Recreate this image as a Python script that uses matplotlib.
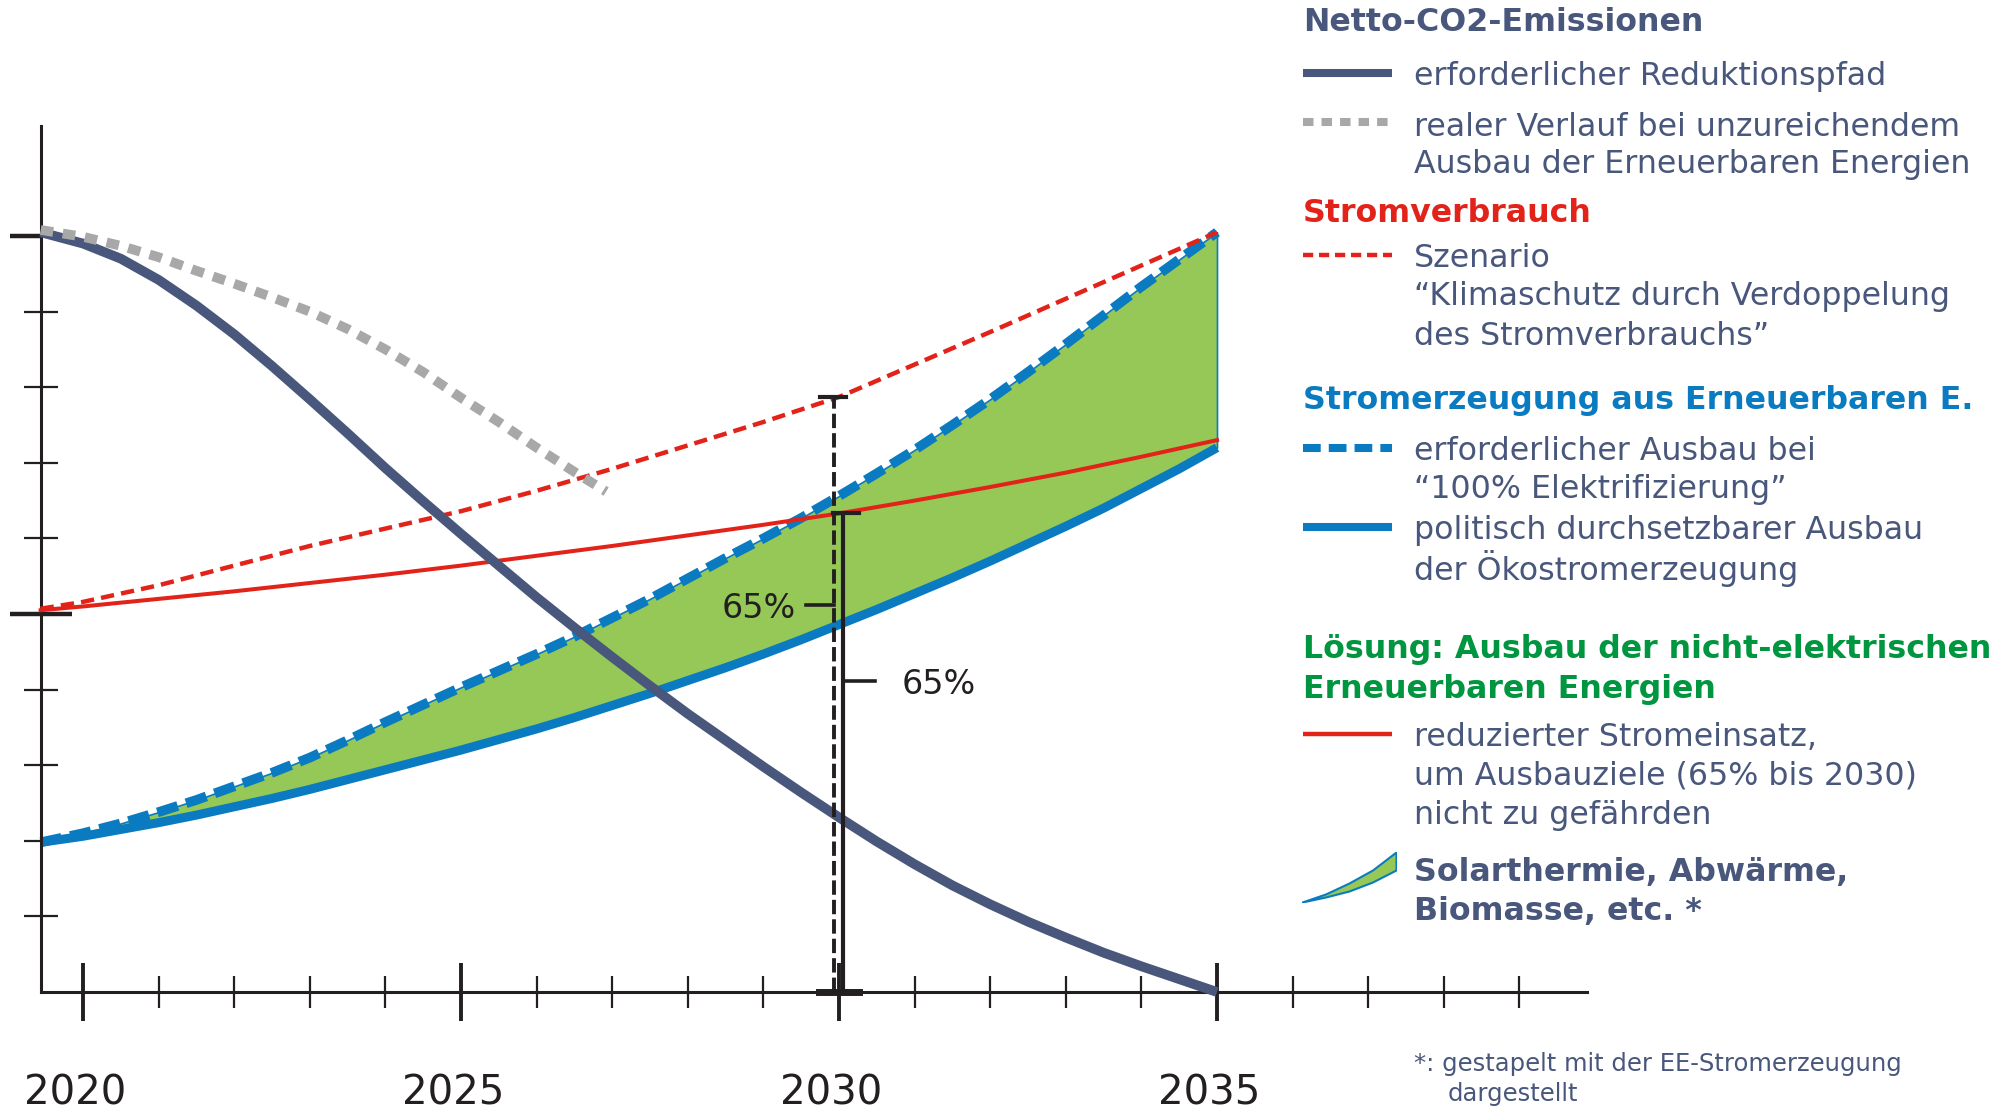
import matplotlib
matplotlib.use('Agg')
import matplotlib.pyplot as plt
import matplotlib.lines as mlines
from matplotlib.transforms import ScaledTranslation

plt.rcParams['font.family'] = ['DejaVu Sans']

NAVY = '#48577b'
GREY = '#a8a8a8'
RED = '#e2231a'
BLUE = '#0a7bc1'
GREEN_FILL = '#95c857'
GREEN_TXT = '#00953f'
BLACK = '#231f20'

# --- Daten (Jahre / relative Einheiten) ---
half_years = [2019.44, 2020, 2020.5, 2021, 2021.5, 2022, 2022.5, 2023, 2023.5,
              2024, 2024.5, 2025, 2025.5, 2026, 2026.5, 2027, 2027.5, 2028,
              2028.5, 2029, 2029.5, 2030, 2030.5, 2031, 2031.5, 2032, 2032.5,
              2033, 2033.5, 2034, 2034.5, 2035]
co2_pfad = [10.05, 9.9, 9.70, 9.42, 9.08, 8.70, 8.28, 7.84, 7.39,
            6.93, 6.49, 6.06, 5.64, 5.22, 4.82, 4.43, 4.05, 3.68,
            3.33, 2.98, 2.64, 2.31, 1.99, 1.69, 1.41, 1.16, 0.93,
            0.72, 0.52, 0.34, 0.17, 0.0]
ee_100 = [1.98, 2.1, 2.23, 2.38, 2.54, 2.72, 2.9, 3.1, 3.33,
          3.57, 3.8, 4.03, 4.25, 4.47, 4.7, 4.95, 5.2, 5.47,
          5.74, 6.0, 6.27, 6.56, 6.86, 7.17, 7.5, 7.84, 8.2,
          8.57, 8.95, 9.33, 9.69, 10.05]
ee_politisch = [1.98, 2.06, 2.15, 2.24, 2.34, 2.45, 2.56, 2.68, 2.81,
                2.94, 3.07, 3.2, 3.34, 3.48, 3.63, 3.79, 3.95, 4.12,
                4.29, 4.47, 4.66, 4.86, 5.06, 5.27, 5.48, 5.70, 5.93,
                6.16, 6.4, 6.66, 6.92, 7.2]
co2_real_years = [2019.44, 2020, 2020.5, 2021, 2021.5, 2022, 2022.5, 2023,
                  2023.5, 2024, 2024.5, 2025, 2025.5, 2026, 2026.5, 2026.92]
co2_real = [10.08, 9.99, 9.87, 9.72, 9.54, 9.37, 9.19, 9.0,
            8.77, 8.5, 8.2, 7.86, 7.54, 7.2, 6.88, 6.62]
years = [2019.44, 2020, 2021, 2022, 2023, 2024, 2025, 2026, 2027, 2028, 2029,
         2030, 2031, 2032, 2033, 2034, 2035]
strom_szenario = [5.07, 5.16, 5.38, 5.64, 5.9, 6.13, 6.36, 6.63, 6.92, 7.23, 7.54,
                  7.87, 8.3, 8.73, 9.17, 9.61, 10.05]
strom_reduziert = [5.05, 5.1, 5.2, 5.3, 5.41, 5.52, 5.64, 5.77, 5.9, 6.04, 6.18,
                   6.33, 6.5, 6.68, 6.87, 7.08, 7.3]
ziel_jahr = 2030
ziel_anteil = 0.65

year_ticks = [2020, 2025, 2030, 2035]
year_labels = ['2020', '2025', '2030', '2035']
minor_years = [2021, 2022, 2023, 2024, 2026, 2027, 2028, 2029,
               2031, 2032, 2033, 2034, 2036, 2037, 2038, 2039]
y_major = [5, 10]
y_minor = [1, 2, 3, 4, 6, 7, 8, 9]

# Legenden-Symbol (Einheitsbox)
icon_x = [0, 0.25, 0.5, 0.75, 1.0]
icon_upper = [0, 0.16, 0.38, 0.64, 1.0]
icon_lower = [0, 0.1, 0.22, 0.4, 0.64]

W, H = 1999, 1113
PX = 75.6  # pixel pro Einheit
x_start, x_end, y_top = 2019.44, 2039.9, 11.45

fig = plt.figure(figsize=(W / 100, H / 100), dpi=100)
ax = fig.add_axes([0, 0, 1, 1])
ax.patch.set_alpha(0)
ax.set_xlim(2020 - 83 / PX, 2020 + (W - 83) / PX)
ax.set_ylim(-(H - 992) / PX, 992 / PX)

# Flaeche + Linien
ax.fill_between(half_years, ee_politisch, ee_100, facecolor=GREEN_FILL,
                edgecolor=BLUE, linewidth=1.2, zorder=1)
ax.plot(half_years, ee_politisch, color=BLUE, lw=6.5, solid_capstyle='butt', zorder=2)
ax.plot(half_years, ee_100, color=BLUE, lw=7, linestyle=(0, (2.2, 0.9)),
        dash_capstyle='butt', zorder=2)
ax.plot(years, strom_reduziert, color=RED, lw=2.9, zorder=3)
ax.plot(years, strom_szenario, color=RED, lw=3.2, linestyle=(0, (3, 1.6)), zorder=3)
ax.plot(half_years, co2_pfad, color=NAVY, lw=7, solid_capstyle='butt',
        solid_joinstyle='round', zorder=4)
ax.plot(co2_real_years, co2_real, color=GREY, lw=7, linestyle=(0, (1.3, 1.0)),
        dash_capstyle='butt', zorder=5)

# 65%-Markierungen bei 2030
i30 = years.index(ziel_jahr)
top_dash = strom_szenario[i30]
top_solid = strom_reduziert[i30]
dx = 1 / PX
x_d = ziel_jahr - 5 * dx
x_s = ziel_jahr + 4 * dx
ax.plot([x_d, x_d], [0, top_dash], color=BLACK, lw=2.8,
        linestyle=(0, (3.7, 1.3)), zorder=6)
ax.plot([x_s, x_s], [0, top_solid], color=BLACK, lw=3, zorder=6)
ax.plot([x_d - 14 * dx, x_d + 12 * dx], [top_dash, top_dash], color=BLACK, lw=3, zorder=6)
ax.plot([x_s - 10 * dx, x_s + 16 * dx], [top_solid, top_solid], color=BLACK, lw=3, zorder=6)
ax.plot([x_d - 28 * dx, x_d], [ziel_anteil * top_dash] * 2, color=BLACK, lw=2.6, zorder=6)
ax.plot([x_s, x_s + 32 * dx], [ziel_anteil * top_solid] * 2, color=BLACK, lw=2.6, zorder=6)
ax.plot([x_d - 15 * dx, x_s + 16 * dx], [0, 0], color=BLACK, lw=5, zorder=6)
ax.text(x_d - 38 * dx, ziel_anteil * top_dash, '65%', ha='right', va='center_baseline',
        fontsize=24, color=BLACK, zorder=7)
ax.text(x_s + 59 * dx, ziel_anteil * top_solid, '65%', ha='left', va='center_baseline',
        fontsize=24, color=BLACK, zorder=7)

# Achsen
for s in ['top', 'right']:
    ax.spines[s].set_visible(False)
ax.spines['bottom'].set_position(('data', 0))
ax.spines['bottom'].set_bounds(x_start, x_end)
ax.spines['left'].set_position(('data', x_start))
ax.spines['left'].set_bounds(0, y_top)
for s in ['bottom', 'left']:
    ax.spines[s].set_linewidth(2.2)
    ax.spines[s].set_color(BLACK)

ax.set_xticks(year_ticks, labels=year_labels)
ax.set_xticks(minor_years, minor=True)
ax.set_yticks(y_major, labels=['', ''])
ax.set_yticks(y_minor, minor=True)
ax.tick_params(axis='x', which='major', direction='inout', length=42, width=2.8,
               color=BLACK, pad=38, labelsize=29, labelcolor=BLACK)
ax.tick_params(axis='x', which='minor', direction='inout', length=23, width=1.6, color=BLACK)
ax.tick_params(axis='y', which='major', direction='inout', length=44, width=3.2,
               color=BLACK, labelleft=False)
ax.tick_params(axis='y', which='minor', direction='inout', length=24.5, width=1.6, color=BLACK)
t10 = ax.yaxis.get_major_ticks()[1]
t10.tick1line.set_marker(mlines.TICKLEFT)
t10.tick1line.set_markersize(22)
shift = ScaledTranslation(-7.6 / 100, 0, fig.dpi_scale_trans)
for lab in ax.get_xticklabels():
    lab.set_transform(lab.get_transform() + shift)

# Legende (Pixelkoordinaten)
lax = fig.add_axes([0, 0, 1, 1], facecolor='none')
lax.set_xlim(0, W)
lax.set_ylim(H, 0)
lax.axis('off')

TX, LX0, LX1 = 1414, 1303, 1392
fs = 22.8

def txt(x, y, s, color=NAVY, bold=False, size=fs):
    lax.text(x, y, s, color=color, fontsize=size, va='center_baseline',
             fontweight='bold' if bold else 'normal')

txt(LX0, 19, 'Netto-CO2-Emissionen', bold=True)
lax.plot([LX0, LX1], [72.7, 72.7], color=NAVY, lw=5.8, solid_capstyle='butt')
txt(TX, 72.7, 'erforderlicher Reduktionspfad')
lax.plot([LX0, LX1], [122, 122], color=GREY, lw=5.8, linestyle=(0, (1.3, 1.0)),
         dash_capstyle='butt')
txt(TX, 123.7, 'realer Verlauf bei unzureichendem')
txt(TX, 160.6, 'Ausbau der Erneuerbaren Energien')

txt(LX0, 210.4, 'Stromverbrauch', color=RED, bold=True)
lax.plot([LX0, LX1], [255, 255], color=RED, lw=3.2, linestyle=(0, (2.3, 1.3)))
txt(TX, 255, 'Szenario')
txt(TX, 293, '\u201cKlimaschutz durch Verdoppelung')
txt(TX, 332.7, 'des Stromverbrauchs\u201d')

txt(LX0, 396.5, 'Stromerzeugung aus Erneuerbaren E.', color=BLUE, bold=True)
lax.plot([LX0, LX1], [447.5, 447.5], color=BLUE, lw=5.8, linestyle=(0, (2.2, 1.0)),
         dash_capstyle='butt')
txt(TX, 447.5, 'erforderlicher Ausbau bei')
txt(TX, 485.7, '\u201c100% Elektrifizierung\u201d')
lax.plot([LX0, LX1], [526.5, 526.5], color=BLUE, lw=5.8, solid_capstyle='butt')
txt(TX, 526.5, 'politisch durchsetzbarer Ausbau')
txt(TX, 564.8, 'der \u00d6kostromerzeugung')

txt(LX0, 646.4, 'L\u00f6sung: Ausbau der nicht-elektrischen', color=GREEN_TXT, bold=True)
txt(LX0, 686, 'Erneuerbaren Energien', color=GREEN_TXT, bold=True)
lax.plot([LX0, LX1], [734, 734], color=RED, lw=3.2, solid_capstyle='butt')
txt(TX, 734, 'reduzierter Stromeinsatz,')
txt(TX, 772.6, 'um Ausbauziele (65% bis 2030)')
txt(TX, 812, 'nicht zu gef\u00e4hrden')

txt(TX, 869.5, 'Solarthermie, Abw\u00e4rme,', bold=True)
txt(TX, 907.7, 'Biomasse, etc. *', bold=True)

txt(TX, 1061, '*: gestapelt mit der EE-Stromerzeugung', size=17.5)
txt(1448, 1091, 'dargestellt', size=17.5)

iax = fig.add_axes([1302 / W, 1 - 902 / H, 94 / W, 50 / H])
iax.fill_between(icon_x, icon_lower, icon_upper, facecolor=GREEN_FILL,
                 edgecolor=BLUE, linewidth=1.5)
iax.set_xlim(0, 1)
iax.set_ylim(0, 1)
iax.axis('off')

fig.savefig('out.png', dpi=100)
